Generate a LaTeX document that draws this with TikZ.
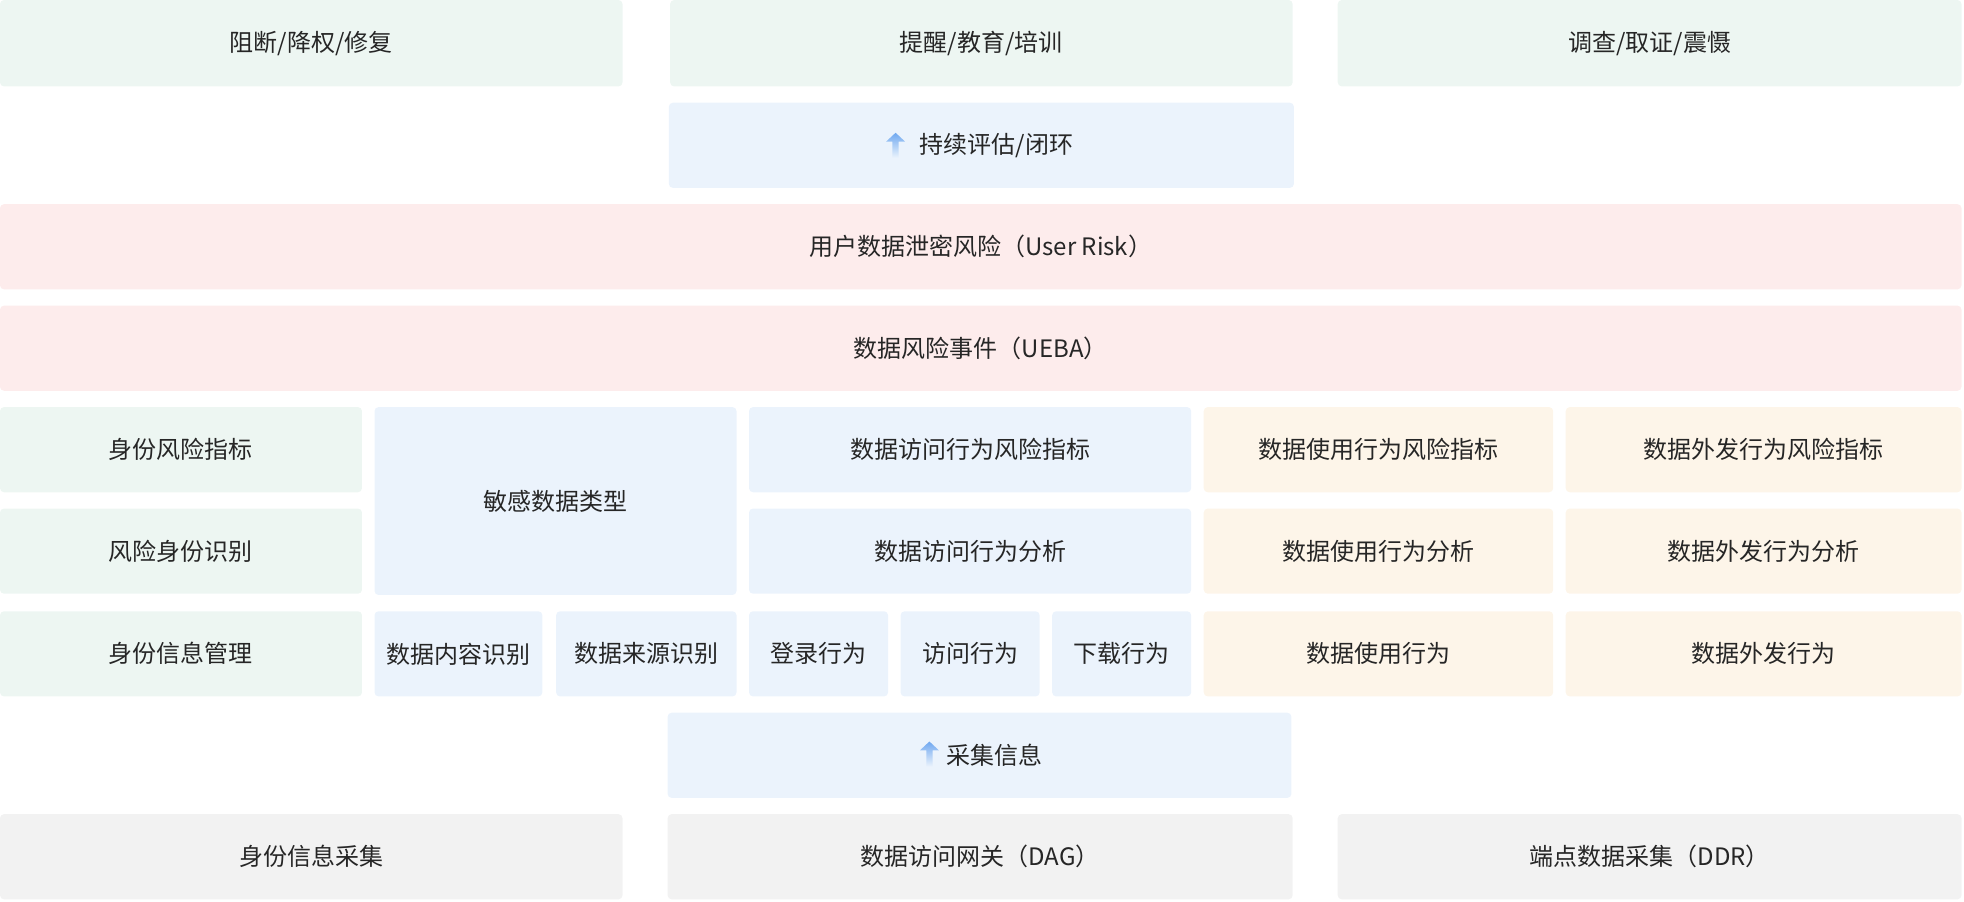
\documentclass[tikz,border=0pt]{standalone}
\usepackage{fontspec}
\setmainfont{Noto Sans CJK SC}
\definecolor{gbg}{HTML}{EDF6F2}
\definecolor{bbg}{HTML}{EBF3FC}
\definecolor{rbg}{HTML}{FDECEC}
\definecolor{obg}{HTML}{FDF5E9}
\definecolor{kbg}{HTML}{F2F2F2}
\definecolor{txt}{HTML}{262626}
\definecolor{arr}{HTML}{6FA8F0}
\tikzset{
  box/.style={draw=none, rounded corners=2pt, text=txt, font=\fontsize{12}{14}\selectfont, inner sep=0pt},
}
% box from (x1,y1) to (x2,y2) in reference pixels
\newcommand{\cell}[7]{%
  \fill[#6, rounded corners=2pt] (#2,#3) rectangle (#4,#5);
  \node[box] (#1) at ({(#2+#4)/2},{(#3+#5)/2}) {#7};
}
\newcommand{\uparr}[2]{%
  \shade[top color=arr, bottom color=bbg, shading angle=0]
    (#1-2.5,#2+10) -- (#1-2.5,#2-3) -- (#1-7.5,#2-3) -- (#1,#2-10) -- (#1+7.5,#2-3) -- (#1+2.5,#2-3) -- (#1+2.5,#2+10) -- cycle;
}
\begin{document}
\begin{tikzpicture}[x=0.6263pt, y=-0.6263pt]
\useasboundingbox (0,0) rectangle (1568,720);

% Maßnahmen
\cell{act1}{0}{0}{497}{69}{gbg}{阻断/降权/修复}
\cell{act2}{535}{0}{1032}{69}{gbg}{提醒/教育/培训}
\cell{act3}{1068}{0}{1566}{69}{gbg}{调查/取证/震慑}

% Bewertung
\cell{eval}{534}{82}{1033}{150}{bbg}{\hspace{15pt}持续评估/闭环}
\uparr{715}{116}

% Risiko
\cell{urisk}{0}{163}{1566}{231}{rbg}{用户数据泄密风险（User Risk）}
\cell{ueba}{0}{244}{1566}{312}{rbg}{数据风险事件（UEBA）}

% Indikatoren
\cell{idind}{0}{325}{289}{393}{gbg}{身份风险指标}
\cell{sens}{299}{325}{588}{475}{bbg}{敏感数据类型}
\cell{accind}{598}{325}{951}{393}{bbg}{数据访问行为风险指标}
\cell{useind}{961}{325}{1240}{393}{obg}{数据使用行为风险指标}
\cell{outind}{1250}{325}{1566}{393}{obg}{数据外发行为风险指标}

% Analyse
\cell{idrec}{0}{406}{289}{474}{gbg}{风险身份识别}
\cell{accana}{598}{406}{951}{474}{bbg}{数据访问行为分析}
\cell{useana}{961}{406}{1240}{474}{obg}{数据使用行为分析}
\cell{outana}{1250}{406}{1566}{474}{obg}{数据外发行为分析}

% Grundlagen
\cell{idmgmt}{0}{488}{289}{556}{gbg}{身份信息管理}
\cell{content}{299}{488}{433}{556}{bbg}{数据内容识别}
\cell{source}{444}{488}{588}{556}{bbg}{数据来源识别}
\cell{login}{598}{488}{709}{556}{bbg}{登录行为}
\cell{visit}{719}{488}{830}{556}{bbg}{访问行为}
\cell{down}{840}{488}{951}{556}{bbg}{下载行为}
\cell{use}{961}{488}{1240}{556}{obg}{数据使用行为}
\cell{out}{1250}{488}{1566}{556}{obg}{数据外发行为}

% Erfassung
\cell{collect}{533}{569}{1031}{637}{bbg}{\hspace{15pt}采集信息}
\uparr{742}{602}

\cell{idcol}{0}{650}{497}{718}{kbg}{身份信息采集}
\cell{dag}{533}{650}{1032}{718}{kbg}{数据访问网关（DAG）}
\cell{ddr}{1068}{650}{1566}{718}{kbg}{端点数据采集（DDR）}

\end{tikzpicture}
\end{document}
